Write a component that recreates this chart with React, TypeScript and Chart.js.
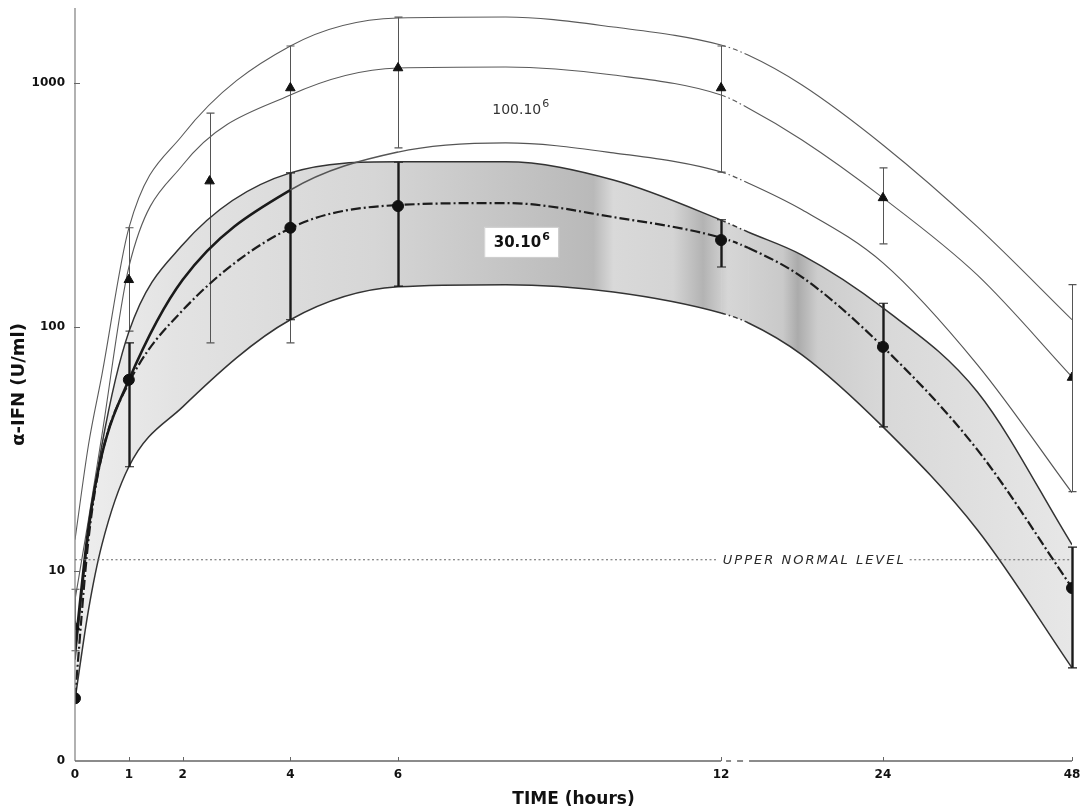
import React, { useEffect, useRef } from 'react';
import { Chart, registerables, LinearScale } from 'chart.js';

// ---------------- data ----------------
const HOURS = [0, 0.25, 0.5, 1, 2, 4, 6, 8, 10, 12, 14, 18, 24, 36, 48];
// 100.10^6 group: envelope and fitted mean
const UPPER_100 = [13.4, 32.8, 63.6, 254, 612, 1418, 1847, 1864, 1696, 1431, 1302, 981, 557, 257, 107];
const MEAN_100 = [7.6, 16.2, 36, 176, 461, 893, 1152, 1163, 1078, 893, 790, 584, 338, 163, 62.4];
const LOWER_100 = [4.75, 15, 30, 60.6, 156, 364, 521, 568, 517, 432, 389, 302, 183, 69.9, 20.9];
// 30.10^6 group: shaded band and fitted mean
const UPPER_30 = [4.32, 14, 32.8, 95.4, 217, 428, 475, 475, 400, 274, 245, 197, 119.6, 54.1, 12.8];
const MEAN_30 = [3.02, 13.4, 29.9, 58.9, 117, 254, 316, 322, 282, 232, 211, 160, 82.8, 31.3, 8.52];
const LOWER_30 = [2.96, 6.9, 12.8, 26.7, 47.0, 107, 146, 149, 139, 114, 104, 76.8, 38.9, 14.7, 4.0];

// measured points
const TRI_HOURS = [0, 1, 2.5, 4, 6, 12, 24, 48];
const TRI_MEAN = [5.9, 156, 396, 954, 1152, 954, 338, 62];
const TRI_LOW = [4.7, 96, 86, 86, 542, 431, 219, 21.1];
const TRI_HIGH = [8.4, 255, 753, 1418, 1864, 1418, 449, 149];

const CIRC_HOURS = [0, 1, 4, 6, 12, 24, 48];
const CIRC_MEAN = [3.0, 60.7, 255, 313, 227, 82.8, 8.5];
const CIRC_LOW = [3.0, 26.7, 107, 147, 176, 38.9, 4.0];
const CIRC_HIGH = [3.0, 86, 428, 474, 275, 125, 12.5];

const UPPER_NORMAL = 11.1;

const X_TICKS = [0, 1, 2, 4, 6, 12, 24, 48];
const Y_MIN = 1.66;
const Y_MAX = 2030;
const Y_TICKS = [Y_MIN, 10, 100, 1000];

// broken time axis: hour breakpoints and their share of the axis length
const BREAK_HOURS = [0, 12, 24, 48];
const BREAK_FRACS = [0, 0.648, 0.8104, 1];

function hourToFrac(h: number): number {
  for (let i = 1; i < BREAK_HOURS.length; i++) {
    if (h <= BREAK_HOURS[i] || i === BREAK_HOURS.length - 1) {
      const h0 = BREAK_HOURS[i - 1], h1 = BREAK_HOURS[i];
      const f0 = BREAK_FRACS[i - 1], f1 = BREAK_FRACS[i];
      return f0 + ((h - h0) / (h1 - h0)) * (f1 - f0);
    }
  }
  return 0;
}
function fracToHour(f: number): number {
  for (let i = 1; i < BREAK_FRACS.length; i++) {
    if (f <= BREAK_FRACS[i] || i === BREAK_FRACS.length - 1) {
      const h0 = BREAK_HOURS[i - 1], h1 = BREAK_HOURS[i];
      const f0 = BREAK_FRACS[i - 1], f1 = BREAK_FRACS[i];
      return h0 + ((f - f0) / (f1 - f0)) * (h1 - h0);
    }
  }
  return 0;
}

class BrokenTimeScale extends LinearScale {
  static id = 'brokenTime';
  static defaults = LinearScale.defaults;
  getPixelForValue(value: number) {
    return (this as any).getPixelForDecimal(hourToFrac(value));
  }
  getValueForPixel(pixel: number) {
    return fracToHour((this as any).getDecimalForPixel(pixel));
  }
}

Chart.register(...registerables, BrokenTimeScale as any);
Chart.defaults.font.family = "'DejaVu Sans', sans-serif";

const FONT = "'DejaVu Sans', sans-serif";

const inBreak = (c: any) => c.p0.parsed.x >= 12 && c.p1.parsed.x <= 14;

function curve(vals: number[], opts: any) {
  const { segment, ...rest } = opts;
  return {
    type: 'line',
    data: HOURS.map((h, i) => ({ x: h, y: vals[i] })),
    pointRadius: 0,
    cubicInterpolationMode: 'monotone',
    fill: false,
    segment: {
      borderDash: (c: any) => (inBreak(c) ? [5, 3, 1.5, 3] : undefined),
      ...(segment || {}),
    },
    ...rest,
  };
}

function bandGradient(c: any) {
  const chart = c.chart;
  const area = chart.chartArea;
  if (!area) return '#d8d8d8';
  const g = chart.ctx.createLinearGradient(area.left, 0, area.right, 0);
  const stops: [number, string][] = [
    [0, '#eeeeee'], [0.1, '#e3e3e3'], [0.3, '#d6d6d6'], [0.42, '#c6c6c6'],
    [0.52, '#b9b9b9'], [0.54, '#d9d9d9'], [0.6, '#d4d4d4'], [0.63, '#b3b3b3'],
    [0.655, '#d6d6d6'], [0.71, '#c9c9c9'], [0.725, '#ababab'], [0.745, '#cdcdcd'],
    [0.82, '#d9d9d9'], [1, '#e7e7e7'],
  ];
  stops.forEach(([o, col]) => g.addColorStop(o, col));
  return g;
}

const BAND_LOWER_INDEX = 5;

function drawSup(ctx: CanvasRenderingContext2D, base: string, sup: string, cx: number, cy: number, weight: string, size: number, color: string) {
  ctx.font = `${weight} ${size}px ${FONT}`;
  const wb = ctx.measureText(base).width;
  ctx.font = `${weight} ${Math.round(size * 0.75)}px ${FONT}`;
  const ws = ctx.measureText(sup).width;
  const x0 = cx - (wb + ws) / 2;
  ctx.fillStyle = color;
  ctx.textBaseline = 'middle';
  ctx.textAlign = 'left';
  ctx.font = `${weight} ${size}px ${FONT}`;
  ctx.fillText(base, x0, cy);
  ctx.font = `${weight} ${Math.round(size * 0.75)}px ${FONT}`;
  ctx.fillText(sup, x0 + wb + 1, cy - size * 0.42);
}

function drawErrorBars(chart: any) {
  const ctx: CanvasRenderingContext2D = chart.ctx;
  const xs = chart.scales.x, ys = chart.scales.y;
  ctx.save();
  const bar = (h: number, lo: number, hi: number, w: number, color: string, capHalf: number) => {
    if (lo === hi) return;
    const x = Math.round(xs.getPixelForValue(h)) + 0.5;
    const y1 = ys.getPixelForValue(hi), y2 = ys.getPixelForValue(lo);
    ctx.strokeStyle = color;
    ctx.lineWidth = w;
    ctx.beginPath();
    ctx.moveTo(x, y1); ctx.lineTo(x, y2);
    ctx.stroke();
    ctx.lineWidth = 1.2;
    ctx.beginPath();
    ctx.moveTo(x - capHalf, y1); ctx.lineTo(x + capHalf, y1);
    ctx.moveTo(x - capHalf, y2); ctx.lineTo(x + capHalf, y2);
    ctx.stroke();
  };
  TRI_HOURS.forEach((h, i) => bar(h, TRI_LOW[i], TRI_HIGH[i], 1, '#555', 4));
  CIRC_HOURS.forEach((h, i) => bar(h, CIRC_LOW[i], CIRC_HIGH[i], 2.4, '#1a1a1a', 4.5));
  ctx.restore();
}

function drawDecor(chart: any) {
  const ctx: CanvasRenderingContext2D = chart.ctx;
  const xs = chart.scales.x, ys = chart.scales.y;
  const { left, right, top, bottom } = chart.chartArea;
  ctx.save();

  // axes
  ctx.strokeStyle = '#888';
  ctx.lineWidth = 1.3;
  ctx.beginPath();
  ctx.moveTo(left, top); ctx.lineTo(left, bottom);
  ctx.stroke();
  const p12 = xs.getPixelForValue(12);
  const p14 = xs.getPixelForValue(14);
  ctx.strokeStyle = '#666';
  ctx.beginPath();
  ctx.moveTo(left, bottom); ctx.lineTo(p12, bottom);
  ctx.moveTo(p12 + 5, bottom); ctx.lineTo(p12 + 10, bottom);
  ctx.moveTo(p12 + 16, bottom); ctx.lineTo(p12 + 22, bottom);
  ctx.moveTo(p14 + 1, bottom); ctx.lineTo(right, bottom);
  ctx.stroke();
  // tick marks
  ctx.lineWidth = 1;
  ctx.beginPath();
  X_TICKS.forEach((h) => {
    if (h === 0) return;
    const x = Math.round(xs.getPixelForValue(h)) + 0.5;
    ctx.moveTo(x, bottom); ctx.lineTo(x, bottom - 4);
  });
  Y_TICKS.forEach((v) => {
    if (v === Y_MIN) return;
    const y = Math.round(ys.getPixelForValue(v)) + 0.5;
    ctx.moveTo(left - 1, y); ctx.lineTo(left + 5, y);
  });
  ctx.stroke();

  // upper normal level
  const yN = ys.getPixelForValue(UPPER_NORMAL);
  const label = 'UPPER NORMAL LEVEL';
  ctx.font = `italic 13px ${FONT}`;
  (ctx as any).letterSpacing = '2px';
  const tw = ctx.measureText(label).width;
  const cx = left + 0.7415 * (right - left);
  const tl = cx - tw / 2, tr = cx + tw / 2;
  ctx.fillStyle = '#2a2a2a';
  ctx.textBaseline = 'middle';
  ctx.textAlign = 'left';
  ctx.fillText(label, tl, yN + 1);
  (ctx as any).letterSpacing = '0px';
  ctx.strokeStyle = '#666';
  ctx.lineWidth = 1.2;
  ctx.setLineDash([2, 2.5]);
  ctx.beginPath();
  ctx.moveTo(left, yN); ctx.lineTo(tl - 5, yN);
  ctx.moveTo(tr + 4, yN); ctx.lineTo(right, yN);
  ctx.stroke();
  ctx.setLineDash([]);

  // group labels
  drawSup(ctx, '100.10', '6', xs.getPixelForValue(8.27), ys.getPixelForValue(775), 'normal', 14, '#333');

  const bx = xs.getPixelForValue(8.27);
  const by = ys.getPixelForValue(223);
  ctx.fillStyle = '#ffffff';
  ctx.fillRect(bx - 36, by - 15, 74, 30);
  ctx.strokeStyle = '#cfcfcf';
  ctx.lineWidth = 1;
  ctx.strokeRect(bx - 36 + 0.5, by - 15 + 0.5, 74, 30);
  drawSup(ctx, '30.10', '6', bx + 1, by + 1, 'bold', 15, '#111');

  ctx.restore();
}

const decorPlugin = {
  id: 'decor',
  afterDatasetDraw(chart: any, args: any) {
    if (args.index === BAND_LOWER_INDEX) drawErrorBars(chart);
  },
  afterDatasetsDraw(chart: any) {
    drawDecor(chart);
  },
};

function buildConfig(): any {
  const thin = { borderColor: '#5a5a5a', borderWidth: 1.1 };
  return {
    type: 'line',
    data: {
      datasets: [
        curve(UPPER_100, { ...thin, order: 3 }),
        curve(MEAN_100, { ...thin, order: 3 }),
        curve(LOWER_100, {
          borderColor: '#333', borderWidth: 1.2, order: 2,
          segment: {
            borderWidth: (c: any) => (c.p1.parsed.x <= 4 ? 2.6 : c.p1.parsed.x <= 6 ? 1.6 : 1.2),
            borderColor: (c: any) => (c.p1.parsed.x <= 4 ? '#1a1a1a' : '#555'),
          },
        }),
        curve(MEAN_30, { borderColor: '#1c1c1c', borderWidth: 2.2, borderDash: [10, 3, 2, 3], order: 2 }),
        curve(UPPER_30, { borderColor: '#333', borderWidth: 1.5, order: 4 }),
        curve(LOWER_30, {
          borderColor: '#333', borderWidth: 1.5, order: 5,
          fill: { target: 4 },
          backgroundColor: bandGradient,
        }),
        {
          type: 'line',
          data: TRI_HOURS.map((h, i) => ({ x: h, y: TRI_MEAN[i] })),
          showLine: false,
          pointStyle: 'triangle',
          pointRadius: 5.5,
          pointBackgroundColor: '#111',
          pointBorderColor: '#111',
          pointBorderWidth: 1,
          order: 0,
        },
        {
          type: 'line',
          data: CIRC_HOURS.map((h, i) => ({ x: h, y: CIRC_MEAN[i] })),
          showLine: false,
          pointStyle: 'circle',
          pointRadius: 5.5,
          pointBackgroundColor: '#111',
          pointBorderColor: '#111',
          pointBorderWidth: 1,
          order: 0,
        },
      ],
    },
    options: {
      responsive: false,
      animation: false,
      devicePixelRatio: 1,
      layout: { padding: { top: 8, right: 8, left: 0, bottom: 0 } },
      plugins: { legend: { display: false }, tooltip: { enabled: false } },
      events: [],
      scales: {
        x: {
          type: 'brokenTime',
          min: 0,
          max: 48,
          grid: { display: false, drawTicks: false },
          border: { display: false },
          afterBuildTicks: (s: any) => { s.ticks = X_TICKS.map((v) => ({ value: v })); },
          afterFit: (s: any) => { s.height = 51; s.paddingLeft = 0; s.paddingRight = 0; },
          ticks: {
            autoSkip: false,
            maxRotation: 0,
            padding: 7,
            color: '#111',
            font: { family: FONT, weight: 'bold', size: 12 },
            callback: (v: any) => String(v),
          },
          title: {
            display: true,
            text: 'TIME (hours)',
            color: '#111',
            font: { family: FONT, weight: 'bold', size: 17 },
            padding: { top: 0, bottom: 2 },
          },
        },
        y: {
          type: 'logarithmic',
          min: Y_MIN,
          max: Y_MAX,
          grid: { display: false, drawTicks: false },
          border: { display: false },
          afterBuildTicks: (s: any) => { s.ticks = Y_TICKS.map((v) => ({ value: v })); },
          afterFit: (s: any) => { s.width = 75; s.paddingTop = 0; s.paddingBottom = 0; },
          ticks: {
            autoSkip: false,
            padding: 10,
            color: '#111',
            font: { family: FONT, weight: 'bold', size: 12 },
            callback: (v: any) => (v < 2 ? '0' : String(Math.round(v))),
          },
          title: {
            display: true,
            text: 'α-IFN (U/ml)',
            color: '#111',
            font: { family: FONT, weight: 'bold', size: 18 },
            padding: { top: 9, bottom: 0 },
          },
        },
      },
    },
    plugins: [decorPlugin],
  };
}

export default function App() {
  const ref = useRef<HTMLCanvasElement>(null);
  useEffect(() => {
    if (!ref.current) return;
    const chart = new Chart(ref.current, buildConfig());
    return () => chart.destroy();
  }, []);
  return (
    <div style={{ position: 'absolute', left: 0, top: 0, width: 1080, height: 812, background: '#fff' }}>
      <canvas ref={ref} width={1080} height={812} style={{ display: 'block', width: 1080, height: 812 }} />
    </div>
  );
}
